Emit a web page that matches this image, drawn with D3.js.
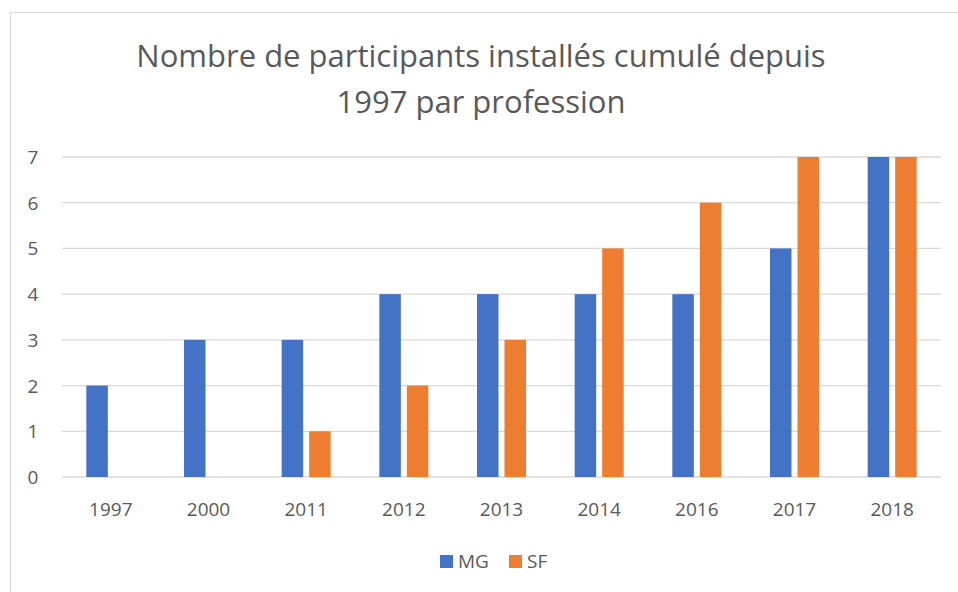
<!DOCTYPE html>
<html><head><meta charset="utf-8">
<script src="https://cdn.jsdelivr.net/npm/d3@7"></script>
<style>body{margin:0;background:#fff}svg{display:block}</style>
</head><body>
<script>
const categories = ["1997","2000","2011","2012","2013","2014","2016","2017","2018"];
const seriesNames = ["MG","SF"];
const mgValues = [2,3,3,4,4,4,4,5,7];
const sfValues = [0,0,1,2,3,5,6,7,7];
const yTicks = [0,1,2,3,4,5,6,7];
const colors = ["#4472C4","#ED7D31"];
const titleLines = ["Nombre de participants installés cumulé depuis","1997 par profession"];

const W = 958, H = 592;
const font = "'Open Sans', sans-serif";
const svg = d3.select("body").append("svg").attr("width", W).attr("height", H);
svg.append("rect").attr("x",10.5).attr("y",12.5).attr("width",W+10).attr("height",H+10)
  .attr("fill","#fff").attr("stroke","#d9d9d9").attr("stroke-width",1);

svg.selectAll("text.title").data(titleLines).join("text")
  .attr("x",481).attr("y",(d,i)=>67+i*46).attr("text-anchor","middle")
  .attr("font-family",font).attr("font-size",31).attr("fill","#595959").text(d=>d);

const x = d3.scaleBand().domain(categories).range([62,941]);
const y = d3.scaleLinear().domain([0,7]).range([477,157]);
const bw = 21.5, gap = 6;

const g = svg.append("g");
g.selectAll("line.grid").data(yTicks).join("line")
  .attr("x1",62).attr("x2",941).attr("y1",d=>y(d)).attr("y2",d=>y(d))
  .attr("stroke","#d9d9d9").attr("stroke-width",1.3);

g.selectAll("text.ylab").data(yTicks).join("text")
  .attr("x",33).attr("y",d=>y(d)+7).attr("text-anchor","middle")
  .attr("font-family",font).attr("font-size",19).attr("fill","#595959").text(d=>d);

g.selectAll("text.xlab").data(categories).join("text")
  .attr("x",d=>x(d)+x.bandwidth()/2).attr("y",516).attr("text-anchor","middle")
  .attr("font-family",font).attr("font-size",19).attr("fill","#595959").text(d=>d);

const series = [mgValues, sfValues];
series.forEach((vals,si)=>{
  g.selectAll("rect.s"+si).data(vals.map((v,i)=>({c:categories[i],v}))).join("rect")
    .attr("x",d=>x(d.c)+x.bandwidth()/2 + (si===0 ? -gap/2-bw : gap/2))
    .attr("y",d=>y(d.v)).attr("width",bw).attr("height",d=>y(0)-y(d.v))
    .attr("fill",colors[si]);
});

const leg = svg.append("g");
const legX = [440, 509];
seriesNames.forEach((n,i)=>{
  leg.append("rect").attr("x",legX[i]).attr("y",555).attr("width",13).attr("height",13).attr("fill",colors[i]);
  leg.append("text").attr("x",legX[i]+18).attr("y",568).attr("font-family",font)
    .attr("font-size",19).attr("fill","#595959").text(n);
});
</script>
</body></html>
